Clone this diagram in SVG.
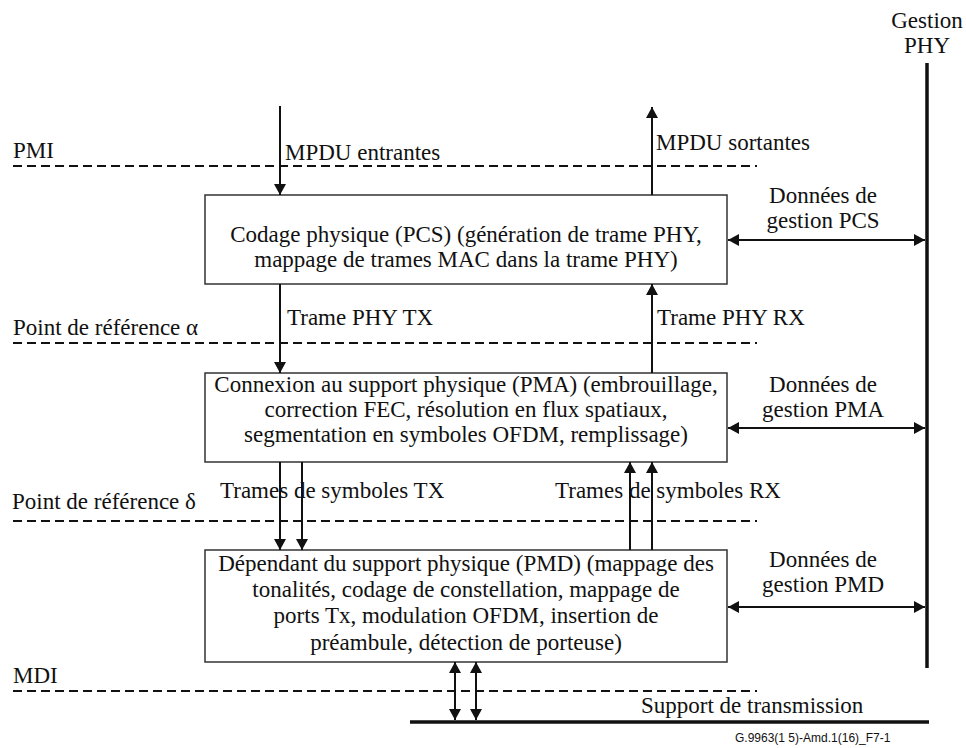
<svg xmlns="http://www.w3.org/2000/svg" width="966" height="748" viewBox="0 0 966 748">
  <style>
    text { font-family: 'DejaVu Serif', serif; font-size: 23px; fill: #111; }
    .tn { font-family: 'Liberation Serif', serif; }
    .mid { text-anchor: middle; }
    .code { font-family: 'Liberation Sans', sans-serif; font-size: 12px; }
    .box { fill: #fff; stroke: #333; stroke-width: 1.5; }
    .ref { stroke: #111; stroke-width: 2; stroke-dasharray: 9 5; fill: none; }
    .flow { stroke: #111; stroke-width: 2; fill: none; marker-end: url(#ah); }
    .both { stroke: #111; stroke-width: 2; fill: none; marker-start: url(#ah); marker-end: url(#ah); }
    .bus { stroke: #111; stroke-width: 3.5; fill: none; }
  </style>
  <defs>
    <marker id="ah" viewBox="0 0 11 12" refX="11" refY="6" markerWidth="11" markerHeight="12" markerUnits="userSpaceOnUse" orient="auto-start-reverse">
      <path d="M0,0 L11,6 L0,12 z" fill="#111"/>
    </marker>
  </defs>

  <rect width="966" height="748" fill="#fff"/>

  <!-- reference points -->
  <g id="ref-points">
    <line class="ref" x1="13" y1="166" x2="757" y2="166"/>
    <text class="tn" x="13" y="158">PMI</text>
    <line class="ref" x1="13" y1="343" x2="757" y2="343"/>
    <text class="tn" x="13" y="335">Point de référence α</text>
    <line class="ref" x1="13" y1="521" x2="757" y2="521"/>
    <text class="tn" x="12" y="509">Point de référence δ</text>
    <line class="ref" x1="13" y1="691" x2="757" y2="691"/>
    <text class="tn" x="13" y="683">MDI</text>
  </g>

  <!-- PHY management bus -->
  <g id="gestion-phy">
    <line class="bus" x1="927" y1="63" x2="927" y2="668"/>
    <text class="mid tn" x="927" y="28">Gestion</text>
    <text class="mid tn" x="927" y="53">PHY</text>
  </g>

  <!-- transmission medium -->
  <g id="support">
    <line class="bus" x1="410" y1="722" x2="929" y2="722"/>
    <text class="tn" x="641" y="713">Support de transmission</text>
  </g>

  <g id="pcs">
    <rect class="box" x="205" y="195" width="522" height="89"/>
    <text class="mid tn" x="466" y="242">Codage physique (PCS) (génération de trame PHY,</text>
    <text class="mid tn" x="466" y="267">mappage de trames MAC dans la trame PHY)</text>
  </g>

  <g id="pma">
    <rect class="box" x="205" y="373" width="522" height="89"/>
    <text class="mid tn" x="466" y="392">Connexion au support physique (PMA) (embrouillage,</text>
    <text class="mid tn" x="466" y="417">correction FEC, résolution en flux spatiaux,</text>
    <text class="mid tn" x="466" y="442">segmentation en symboles OFDM, remplissage)</text>
  </g>

  <g id="pmd">
    <rect class="box" x="205" y="550" width="522" height="112"/>
    <text class="mid tn" x="466" y="571">Dépendant du support physique (PMD) (mappage des</text>
    <text class="mid tn" x="466" y="597">tonalités, codage de constellation, mappage de</text>
    <text class="mid tn" x="466" y="623">ports Tx, modulation OFDM, insertion de</text>
    <text class="mid tn" x="466" y="650">préambule, détection de porteuse)</text>
  </g>

  <!-- connectors -->
  <g id="connectors">
    <line class="flow" x1="280" y1="106" x2="280" y2="195"/>
    <line class="flow" x1="652" y1="195" x2="652" y2="107"/>
    <line class="flow" x1="280" y1="284" x2="280" y2="373"/>
    <line class="flow" x1="652" y1="373" x2="652" y2="284"/>
    <line class="flow" x1="280" y1="462" x2="280" y2="550"/>
    <line class="flow" x1="302" y1="462" x2="302" y2="550"/>
    <line class="flow" x1="630" y1="550" x2="630" y2="462"/>
    <line class="flow" x1="652" y1="550" x2="652" y2="462"/>
    <line class="both" x1="455" y1="662" x2="455" y2="720"/>
    <line class="both" x1="476" y1="662" x2="476" y2="720"/>
    <line class="both" x1="728" y1="240" x2="925" y2="240"/>
    <line class="both" x1="728" y1="428" x2="925" y2="428"/>
    <line class="both" x1="728" y1="607" x2="925" y2="607"/>
  </g>

  <!-- connector labels -->
  <g id="labels">
    <text class="tn" x="285" y="160">MPDU entrantes</text>
    <text class="tn" x="656" y="150">MPDU sortantes</text>
    <text class="tn" x="287" y="325">Trame PHY TX</text>
    <text class="tn" x="657" y="325">Trame PHY RX</text>
    <text class="tn" x="220" y="498">Trames de symboles TX</text>
    <text class="tn" x="555" y="498">Trames de symboles RX</text>
    <text class="mid tn" x="823" y="203">Données de</text>
    <text class="mid tn" x="823" y="228">gestion PCS</text>
    <text class="mid tn" x="823" y="392">Données de</text>
    <text class="mid tn" x="823" y="417">gestion PMA</text>
    <text class="mid tn" x="823" y="567">Données de</text>
    <text class="mid tn" x="823" y="592">gestion PMD</text>
  </g>

  <text class="code" x="735" y="742">G.9963(1 5)-Amd.1(16)_F7-1</text>
</svg>
